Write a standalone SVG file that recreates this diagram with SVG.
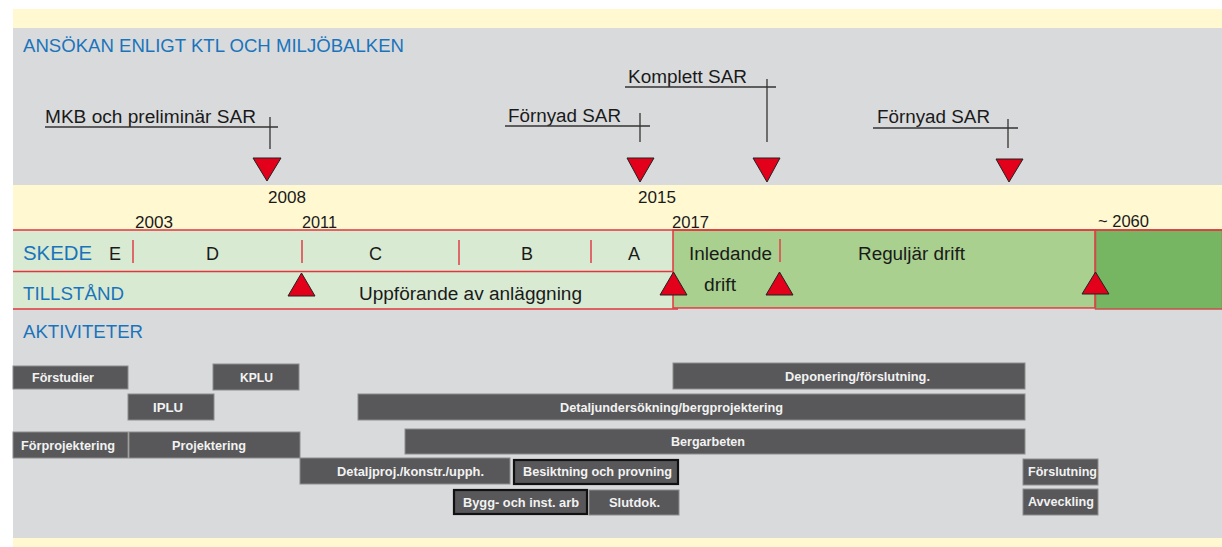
<svg xmlns="http://www.w3.org/2000/svg" width="1222" height="547" viewBox="0 0 1222 547">
<style>
.t{font-family:"Liberation Sans",Arial,sans-serif;fill:#1a1a1a;font-size:18px}
.h{font-family:"Liberation Sans",Arial,sans-serif;fill:#1a74bb;font-size:19px}
.y{font-family:"Liberation Sans",Arial,sans-serif;fill:#1a1a1a;font-size:16px}
.b{font-family:"Liberation Sans",Arial,sans-serif;fill:#f2f2f2;font-size:12px;font-weight:bold}
.bar{fill:#58585a;stroke:#8c8c8c;stroke-width:1}
.barK{fill:#58585a;stroke:#111;stroke-width:2.2}
.tri{fill:#e2001a;stroke:#222;stroke-width:1}
.cl{stroke:#333;stroke-width:1.3;fill:none}
.tick{stroke:#e04850;stroke-width:1.6}
.rl{stroke:#e2363f;stroke-width:1.5}
</style>
<rect width="1222" height="547" fill="#ffffff"/>
<g id="background">
<rect x="13" y="9" width="1209" height="19" fill="#fff8d1"/>
<rect x="13" y="28" width="1209" height="157" fill="#d9dadc"/>
<rect x="13" y="185" width="1209" height="45" fill="#fff8d1"/>
<rect x="13" y="309" width="1209" height="229" fill="#d9dadc"/>
<rect x="13" y="538" width="1209" height="9" fill="#fff8d1"/>
</g>
<g id="title"><text class="h" x="23" y="52" textLength="381" lengthAdjust="spacingAndGlyphs">ANSÖKAN ENLIGT KTL OCH MILJÖBALKEN</text></g>
<g id="phase-band">
<rect x="13" y="230" width="660" height="79" fill="#d9ead2"/>
<rect x="673" y="230" width="422" height="78" fill="#a9d08e" stroke="#e2363f" stroke-width="1.5"/>
<rect x="1095.5" y="230" width="127" height="79" fill="#76b663" stroke="#c8504a" stroke-width="1.5"/>
<line class="rl" x1="13" y1="230" x2="1222" y2="230"/>
<line class="rl" x1="13" y1="271.5" x2="673" y2="271.5"/>
<line class="rl" x1="13" y1="309" x2="678" y2="309"/>
<line class="tick" x1="133" y1="240" x2="133" y2="263"/>
<line class="tick" x1="302" y1="240" x2="302" y2="263"/>
<line class="tick" x1="459" y1="240" x2="459" y2="265"/>
<line class="tick" x1="591" y1="240" x2="591" y2="263"/>
<line class="tick" x1="780" y1="239" x2="780" y2="262"/>
<text class="h" x="23" y="260" textLength="69" lengthAdjust="spacingAndGlyphs" style="font-size:20px">SKEDE</text>
<text class="h" x="23" y="300" textLength="101" lengthAdjust="spacingAndGlyphs">TILLSTÅND</text>
<text class="t" x="109" y="260">E</text>
<text class="t" x="206" y="260">D</text>
<text class="t" x="369" y="260">C</text>
<text class="t" x="521" y="260">B</text>
<text class="t" x="628" y="260">A</text>
<text class="t" x="689" y="260" textLength="83" lengthAdjust="spacingAndGlyphs">Inledande</text>
<text class="t" x="704" y="291" textLength="32" lengthAdjust="spacingAndGlyphs">drift</text>
<text class="t" x="858" y="260" textLength="107" lengthAdjust="spacingAndGlyphs">Reguljär drift</text>
<text class="t" x="359" y="300" textLength="223" lengthAdjust="spacingAndGlyphs">Uppförande av anläggning</text>
</g>
<g id="years">
<text class="y" x="268" y="203" textLength="38" lengthAdjust="spacingAndGlyphs">2008</text>
<text class="y" x="135" y="228" textLength="38" lengthAdjust="spacingAndGlyphs">2003</text>
<text class="y" x="302" y="228" textLength="35" lengthAdjust="spacingAndGlyphs">2011</text>
<text class="y" x="638" y="203" textLength="38" lengthAdjust="spacingAndGlyphs">2015</text>
<text class="y" x="672" y="228" textLength="37" lengthAdjust="spacingAndGlyphs">2017</text>
<text class="y" x="1098" y="227" textLength="51" lengthAdjust="spacingAndGlyphs">~ 2060</text>
</g>
<g id="callouts">
<text class="t" x="45" y="123" textLength="211" lengthAdjust="spacingAndGlyphs">MKB och preliminär SAR</text>
<line class="cl" x1="45" y1="127" x2="278" y2="127"/>
<line class="cl" x1="270" y1="117" x2="270" y2="149"/>
<text class="t" x="508" y="122" textLength="113" lengthAdjust="spacingAndGlyphs">Förnyad SAR</text>
<line class="cl" x1="505" y1="126" x2="650" y2="126"/>
<line class="cl" x1="640" y1="113" x2="640" y2="142"/>
<text class="t" x="628" y="83" textLength="119" lengthAdjust="spacingAndGlyphs">Komplett SAR</text>
<line class="cl" x1="625" y1="87" x2="776" y2="87"/>
<line class="cl" x1="767" y1="79" x2="767" y2="142"/>
<text class="t" x="877" y="123" textLength="113" lengthAdjust="spacingAndGlyphs">Förnyad SAR</text>
<line class="cl" x1="873" y1="128" x2="1018" y2="128"/>
<line class="cl" x1="1008" y1="119" x2="1008" y2="148"/>
</g>
<g id="milestones">
<polygon class="tri" points="253,158 281,158 267,181"/>
<polygon class="tri" points="627,158 654,158 640,182"/>
<polygon class="tri" points="753,158 780,158 767,182"/>
<polygon class="tri" points="996,159 1023,159 1009,182"/>
<polygon class="tri" points="288,296 315,296 301.5,273"/>
<polygon class="tri" points="660,295 687,295 673.5,272"/>
<polygon class="tri" points="766,295 793,295 779.5,272"/>
<polygon class="tri" points="1082,294 1109,294 1095.5,272"/>
</g>
<g id="activities">
<text class="h" x="23" y="338" textLength="120" lengthAdjust="spacingAndGlyphs">AKTIVITETER</text>
<g id="a-forstudier"><rect class="bar" x="13" y="366" width="115" height="23"/><text class="b" x="32" y="382" textLength="62" lengthAdjust="spacingAndGlyphs">Förstudier</text></g>
<g id="a-kplu"><rect class="bar" x="213" y="364" width="86" height="26"/><text class="b" x="240" y="382" textLength="33" lengthAdjust="spacingAndGlyphs">KPLU</text></g>
<g id="a-iplu"><rect class="bar" x="128" y="394" width="86" height="26"/><text class="b" x="153" y="412" textLength="30" lengthAdjust="spacingAndGlyphs">IPLU</text></g>
<g id="a-forprojektering"><rect class="bar" x="13" y="432" width="115" height="26"/><text class="b" x="21" y="450" textLength="94" lengthAdjust="spacingAndGlyphs">Förprojektering</text></g>
<g id="a-projektering"><rect class="bar" x="129" y="432" width="171" height="26"/><text class="b" x="172" y="450" textLength="74" lengthAdjust="spacingAndGlyphs">Projektering</text></g>
<g id="a-detaljproj"><rect class="bar" x="300" y="458" width="210" height="26"/><text class="b" x="337" y="476" textLength="147" lengthAdjust="spacingAndGlyphs">Detaljproj./konstr./upph.</text></g>
<g id="a-detaljunders"><rect class="bar" x="358" y="394" width="667" height="26"/><text class="b" x="560" y="412" textLength="223" lengthAdjust="spacingAndGlyphs">Detaljundersökning/bergprojektering</text></g>
<g id="a-deponering"><rect class="bar" x="673" y="363" width="352" height="26"/><text class="b" x="785" y="381" textLength="145" lengthAdjust="spacingAndGlyphs">Deponering/förslutning.</text></g>
<g id="a-bergarbeten"><rect class="bar" x="405" y="429" width="620" height="25"/><text class="b" x="671" y="446" textLength="74" lengthAdjust="spacingAndGlyphs">Bergarbeten</text></g>
<g id="a-besiktning"><rect class="barK" x="514" y="460" width="164" height="24"/><text class="b" x="523" y="476" textLength="149" lengthAdjust="spacingAndGlyphs">Besiktning och provning</text></g>
<g id="a-bygg"><rect class="barK" x="454" y="490" width="133" height="24"/><text class="b" x="463" y="507" textLength="116" lengthAdjust="spacingAndGlyphs">Bygg- och inst. arb</text></g>
<g id="a-slutdok"><rect class="bar" x="589" y="490" width="90" height="25"/><text class="b" x="609" y="507" textLength="51" lengthAdjust="spacingAndGlyphs">Slutdok.</text></g>
<g id="a-forslutning"><rect class="bar" x="1023" y="459" width="75" height="26"/><text class="b" x="1028" y="476" textLength="69" lengthAdjust="spacingAndGlyphs">Förslutning</text></g>
<g id="a-avveckling"><rect class="bar" x="1023" y="489" width="75" height="26"/><text class="b" x="1028" y="506" textLength="66" lengthAdjust="spacingAndGlyphs">Avveckling</text></g>
</g>
</svg>
